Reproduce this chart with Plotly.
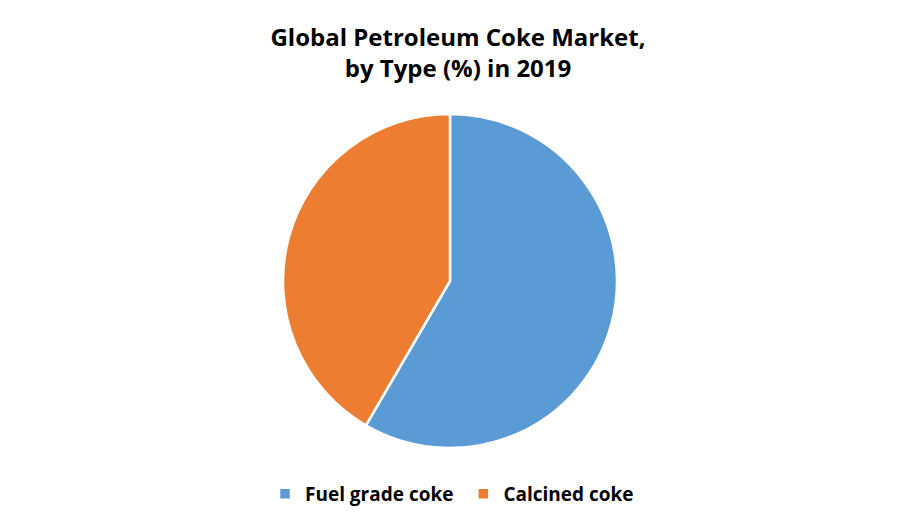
import plotly.graph_objects as go

labels = ["Fuel grade coke\u00a0", "Calcined coke"]
values = [58.4, 41.6]
colors = ["#5B9BD5", "#ED7D31"]

W, H = 900, 525
fig = go.Figure(go.Pie(
    labels=labels, values=values, sort=False, direction="clockwise", rotation=0,
    marker=dict(colors=colors, line=dict(color="white", width=2.5)),
    textinfo="none", hoverinfo="label+percent",
    domain=dict(x=[275/W, 609/W], y=[1-440/H, 1-106/H]),
))
fig.update_layout(
    width=W, height=H,
    margin=dict(l=0, r=0, t=0, b=0),
    paper_bgcolor="white", plot_bgcolor="white",
    title=dict(text="<b>Global Petroleum Coke Market,<br>by Type (%) in 2019</b>",
               x=0.5, xanchor="center", y=1-38/H, yanchor="middle",
               font=dict(family="Open Sans", size=24, color="black")),
    legend=dict(orientation="h", x=0.5 - 6/W, xanchor="center", y=1-486/H, yanchor="middle",
                font=dict(family="Open Sans", size=19, color="black", weight="bold"),
                itemwidth=30, traceorder="normal"),
    showlegend=True,
)
fig.write_html("out.html")
